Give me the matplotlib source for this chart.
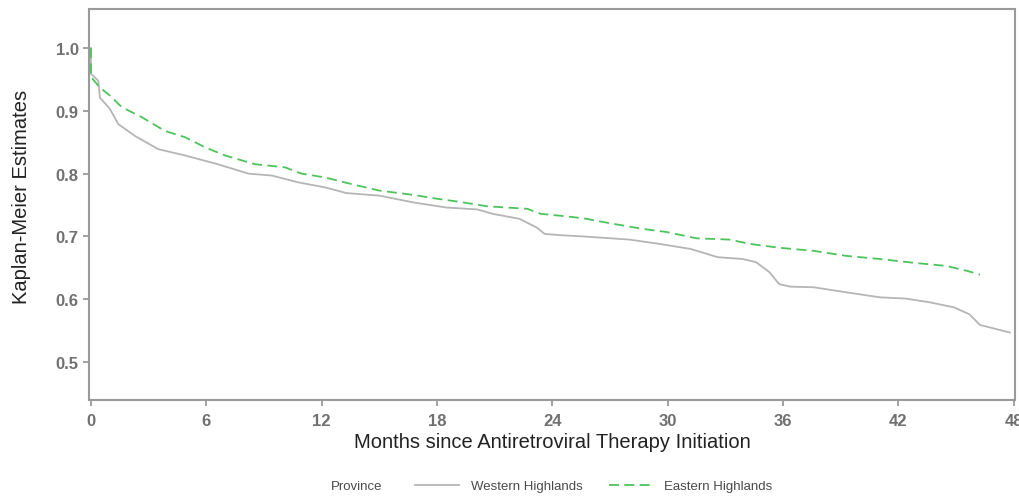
import matplotlib
matplotlib.use("Agg")
import matplotlib.pyplot as plt
from matplotlib.lines import Line2D

plt.rcParams['font.family'] = ['Liberation Sans', 'DejaVu Sans']

# Western Highlands (grey solid)
west_t = [0, 0, 0.38, 0.47, 0.99, 1.42, 2.29, 3.5, 4.89, 6.6, 8.2, 9.4, 10.8, 12.2,
          13.3, 15.0, 16.8, 18.5, 20.1, 20.9, 22.3, 23.2, 23.6, 24.4, 25.6, 28.0,
          29.6, 31.2, 32.6, 33.9, 34.6, 35.3, 35.8, 36.4, 37.6, 39.3, 41.05, 42.4,
          43.65, 44.9, 45.7, 46.25, 47.8]
west_s = [1.0, 0.959, 0.948, 0.921, 0.903, 0.879, 0.860, 0.839, 0.829, 0.815, 0.800,
          0.797, 0.786, 0.778, 0.769, 0.765, 0.754, 0.746, 0.743, 0.736, 0.728, 0.714,
          0.704, 0.702, 0.700, 0.695, 0.688, 0.680, 0.667, 0.664, 0.659, 0.643, 0.624,
          0.620, 0.619, 0.611, 0.603, 0.601, 0.595, 0.587, 0.576, 0.559, 0.547]

# Eastern Highlands (green dashed)
east_t = [0, 0, 0.47, 1.0, 1.6, 2.64, 3.85, 4.9, 5.93, 6.97, 8.53, 10.1, 10.96, 12.17,
          13.6, 15.0, 16.8, 18.0, 19.2, 20.6, 22.7, 23.4, 24.4, 25.6, 27.0, 28.7,
          29.95, 31.5, 33.2, 34.3, 35.8, 37.6, 39.3, 41.05, 42.8, 44.5, 45.6, 46.25]
east_s = [1.0, 0.954, 0.937, 0.924, 0.906, 0.890, 0.868, 0.858, 0.842, 0.829, 0.815,
          0.810, 0.800, 0.794, 0.783, 0.773, 0.766, 0.760, 0.755, 0.748, 0.744, 0.736,
          0.733, 0.729, 0.721, 0.712, 0.707, 0.697, 0.695, 0.688, 0.682, 0.677, 0.669,
          0.664, 0.658, 0.653, 0.645, 0.639]

x_ticks = [0, 6, 12, 18, 24, 30, 36, 42, 48]
y_ticks = [0.5, 0.6, 0.7, 0.8, 0.9, 1.0]

grey = '#b5b5b5'
green = '#4cc45c'
axis_col = '#9a9a9a'
tick_txt = '#707070'

fig = plt.figure(figsize=(10.19, 5.02), dpi=100)
ax = fig.add_axes([89/1019, 101/502, (1015-89)/1019, (401-9.5)/502])

ax.plot(west_t, west_s, color=grey, lw=1.3, solid_joinstyle='round')
ax.plot(east_t, east_s, color=green, lw=1.3, dashes=(5.5, 3))

ax.set_xlim(-0.1, 48.07)
ax.set_ylim(0.4395, 1.063)
ax.set_xticks(x_ticks)
ax.set_yticks(y_ticks)
ax.set_yticklabels([f"{v:.1f}" for v in y_ticks])

for s in ax.spines.values():
    s.set_color(axis_col)
    s.set_linewidth(1.5)

ax.tick_params(axis='both', direction='out', color=axis_col, width=1.3,
               labelcolor=tick_txt, labelsize=12)
ax.tick_params(axis='x', length=4.5, pad=5)
ax.tick_params(axis='y', length=4, pad=3.5)
for lab in ax.get_xticklabels() + ax.get_yticklabels():
    lab.set_fontweight('bold')

ax.set_xlabel('Months since Antiretroviral Therapy Initiation', fontsize=14.5,
              color='#222222', va='center')
ax.xaxis.set_label_coords(0.5, (401 - 443) / 391.5)
ax.set_ylabel('Kaplan-Meier Estimates', fontsize=14.5, color='#222222', va='center')
ax.yaxis.set_label_coords((22 - 89) / 926, 0.52)

handles = [Line2D([], [], color=grey, lw=1.3),
           Line2D([], [], color=green, lw=1.3, dashes=(5.5, 3))]
fig.legend(handles, ['Western Highlands', 'Eastern Highlands'], ncol=2,
           loc='center', bbox_to_anchor=(594/1019, 1 - 487/502), frameon=False,
           fontsize=9.5, labelcolor='#4a4a4a', handlelength=3.3, handletextpad=0.9,
           columnspacing=2.0)
fig.text(357/1019, 1 - 487/502, 'Province', ha='center', va='center',
         fontsize=9.5, color='#4a4a4a')

fig.savefig('out.png', dpi=100)
